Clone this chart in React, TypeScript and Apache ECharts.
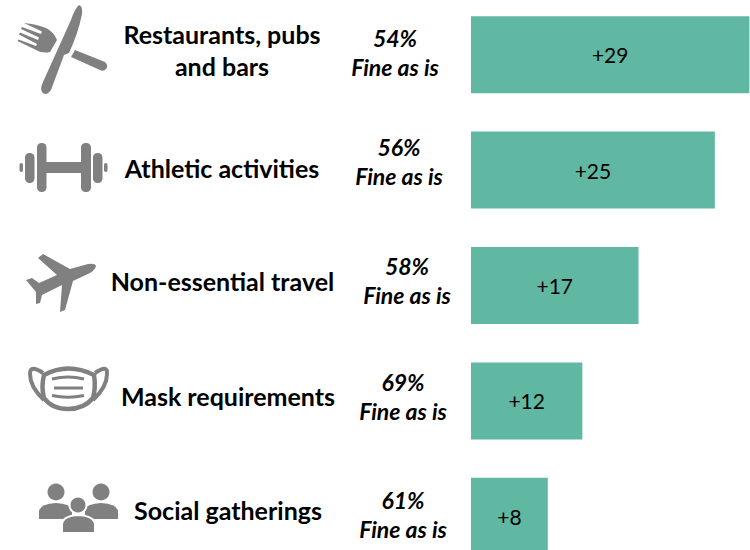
import React, { useEffect, useRef } from "react";
import * as echarts from "echarts";

const categories = ["Restaurants, pubs\nand bars", "Athletic activities", "Non-essential travel", "Mask requirements", "Social gatherings"];
const fineAsIs = ["54%\nFine as is", "56%\nFine as is", "58%\nFine as is", "69%\nFine as is", "61%\nFine as is"];
const barLengths = [29, 25.4, 17.45, 11.6, 8];
const barLabels = ["+29", "+25", "+17", "+12", "+8"];
const catCenters = [222, 222, 222.5, 228, 228];
const catY = [49.5, 168, 281, 396, 510];
const fineX = [395, 399, 407, 403, 403];
const fineY = [52, 161, 280, 396, 514];

const GREY = "#808080";
const FONT = "Lato, Carlito, sans-serif";

echarts.graphic.registerShape("knife", echarts.graphic.extendPath("M79,5 Q83,6 82,14 Q78,34 69,53 L64,55 L51,90 Q46,97 42,92 Q40,88 43,82 L71,20 Q75,8 79,5 Z", {}));
echarts.graphic.registerShape("fork", echarts.graphic.extendPath("M24,23 Q36,24 46,28 Q54,32 57,40 L50,52 Q42,54 34,49 L17.5,41 L18.5,39.5 L36,46 L37,44 L19,34.5 L20,32.5 L38,40 L39,37.5 L21,29 L22,27 L41,34 L42,31.5 Z", {}));
echarts.graphic.registerShape("forkHandle", echarts.graphic.extendPath("M75,50 L105,62 Q109,66 106,69 Q104,72 100,70 L71,57 Z", {}));
echarts.graphic.registerShape("plane", echarts.graphic.extendPath("M96,266 Q95,270 90,273 L73,281 L65,310 L60,312 L62,285 L42,295 L40,303 L36,304 L36,292 L26,280 L32,278 L39,283 L57,275 L38,258 L43,254 L70,269 L88,264 Q95,263 96,266 Z", {}));
echarts.graphic.registerShape("maskBody", echarts.graphic.extendPath("M44,375 Q68,362 94,375 Q96,387 93,398 Q84,409 68,409 Q52,409 44,398 Q41,387 44,375 Z", {}));
echarts.graphic.registerShape("maskEars", echarts.graphic.extendPath("M43,373 Q30,364 30,374 Q30,387 44,400 M95,373 Q108,364 107,374 Q107,387 93,400", {}));
echarts.graphic.registerShape("maskLines", echarts.graphic.extendPath("M52,379 Q68,375 84,379 M54,388 L83,388 M52,395.5 Q68,399 84,395.5", {}));
echarts.graphic.registerShape("personL", echarts.graphic.extendPath("M39,519 L39,511 Q40,504 56,503 Q70,504 72,509 L72,519 Z", {}));
echarts.graphic.registerShape("personR", echarts.graphic.extendPath("M85,519 L85,509 Q87,504 101,503 Q117,504 118,511 L118,519 Z", {}));
echarts.graphic.registerShape("personC", echarts.graphic.extendPath("M62,533 L62,524 Q63,516 78,515 Q94,516 95,524 L95,533 Z", {}));

const rr = (x: number, y: number, w: number, h: number, r: number) => ({
  type: "rect", shape: { x, y, width: w, height: h, r }, style: { fill: GREY },
});
const gp = (type: string, style: any) => ({ type, x: 0, y: 0, style });
const circle = (cx: number, cy: number, r: number, extra: any = {}) => ({
  type: "circle", shape: { cx, cy, r }, style: { fill: GREY, ...extra },
});

const icons: any[] = [
  gp("fork", { fill: GREY }),
  gp("forkHandle", { fill: GREY }),
  gp("knife", { fill: GREY }),
  rr(46, 162, 36, 11, 0),
  rr(37, 143, 9.5, 49, 4.5),
  rr(81, 143, 10, 49, 4.5),
  rr(25, 153, 9.5, 30, 4.5),
  rr(93, 153, 9.5, 30, 4.5),
  rr(19.5, 163, 3.5, 9, 1.7),
  rr(104, 163, 3.5, 9, 1.7),
  gp("plane", { fill: GREY }),
  gp("maskEars", { fill: "none", stroke: GREY, lineWidth: 4 }),
  gp("maskBody", { fill: "#fff", stroke: GREY, lineWidth: 4.5 }),
  gp("maskLines", { fill: "none", stroke: GREY, lineWidth: 3 }),
  circle(56, 492, 8.5),
  circle(101, 492, 8.5),
  gp("personL", { fill: GREY }),
  gp("personR", { fill: GREY }),
  circle(78, 505, 8.5, { stroke: "#fff", lineWidth: 2 }),
  gp("personC", { fill: GREY, stroke: "#fff", lineWidth: 2 }),
];

const texts: any[] = [
  ...categories.map((t, i) => ({
    type: "text", x: catCenters[i], y: catY[i],
    style: { text: t, font: `bold 25px ${FONT}`, fill: "#000", align: "center", verticalAlign: "middle", lineHeight: 32 },
  })),
  ...fineAsIs.map((t, i) => ({
    type: "text", x: fineX[i], y: fineY[i],
    style: { text: t, font: `italic bold 23px ${FONT}`, fill: "#000", align: "center", verticalAlign: "middle", lineHeight: 29 },
  })),
];

export default function App() {
  const ref = useRef<HTMLDivElement>(null);
  useEffect(() => {
    const chart = echarts.init(ref.current!, undefined, { renderer: "svg" });
    chart.setOption({
      animation: false,
      backgroundColor: "#fff",
      grid: { left: 471, top: -3, width: 278.4, height: 577, containLabel: false, outerBoundsMode: "none" },
      xAxis: { type: "value", min: 0, max: 29, show: false },
      yAxis: { type: "category", inverse: true, data: categories, show: false },
      series: [{
        type: "bar",
        data: barLengths,
        barWidth: 77,
        itemStyle: { color: "#60b7a2" },
        label: {
          show: true, position: "inside", color: "#000", fontSize: 21, fontFamily: FONT,
          formatter: (p: any) => barLabels[p.dataIndex],
        },
      }],
      graphic: { elements: [...icons, ...texts] },
    });
    return () => chart.dispose();
  }, []);
  return <div ref={ref} style={{ position: "absolute", left: 0, top: 0, width: 750, height: 550 }} />;
}
